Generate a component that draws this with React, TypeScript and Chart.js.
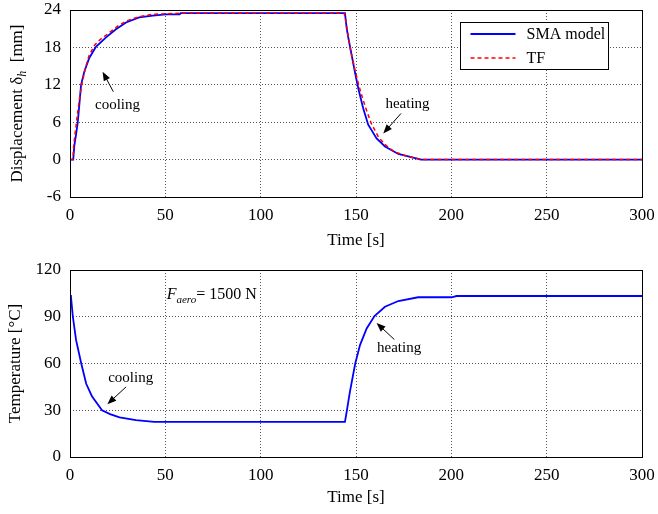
import React, { useEffect, useRef } from "react";
import { Chart, registerables } from "chart.js";
Chart.register(...registerables);

const FONT = "'Liberation Serif', 'Times New Roman', serif";

// ---- axes ----
const timeMin = 0;
const timeMax = 300;
const timeStep = 50;
const dispMin = -6;
const dispMax = 24;
const dispStep = 6;
const tempMin = 0;
const tempMax = 120;
const tempStep = 30;

// ---- top plot: displacement [mm] ----
const smaDispTime = [0, 1.7, 2.3, 3.1, 4.0, 4.9, 5.8, 7.5, 10.1, 13.6, 18.9, 24.1, 29.4, 36.3, 43.4, 50.3, 57.5, 58, 144.2, 145.1, 146.0, 147.7, 149.4, 151.2, 153.8, 156.4, 160.8, 165.2, 172.2, 177.4, 182.6, 184, 300];
const smaDisp = [0, 0, 2.3, 3.9, 5.8, 8.8, 12, 14.1, 16.3, 18.1, 19.6, 20.9, 22.0, 22.8, 23.1, 23.3, 23.3, 23.5, 23.5, 21.1, 19.5, 16.8, 14.1, 11.4, 8.2, 5.6, 3.4, 2.1, 0.9, 0.5, 0.1, 0, 0];

const tfDispTime = [0, 1.5, 2.0, 3.0, 4.0, 5.0, 6.0, 8.0, 10.0, 13.0, 16.0, 20.0, 25.0, 30.0, 36.0, 43.0, 50.0, 60.0, 143.8, 144.8, 145.8, 147.3, 149.3, 151.3, 153.3, 155.3, 158.0, 162.0, 166.0, 170.0, 175.0, 180.0, 185.0, 300];
const tfDisp = [0, 0, 2.5, 5.0, 7.5, 9.8, 11.8, 14.6, 16.7, 18.4, 19.3, 20.2, 21.4, 22.3, 22.9, 23.3, 23.4, 23.5, 23.5, 22.0, 20.0, 17.3, 14.6, 12.1, 10.0, 8.1, 5.8, 3.5, 2.2, 1.3, 0.7, 0.3, 0, 0];

// ---- bottom plot: temperature [°C] ----
const smaTempTime = [0, 0.5, 1.5, 3.2, 5.9, 8.5, 11.5, 16.8, 21.0, 26.0, 34.6, 44.2, 144.2, 145.1, 146.8, 149.6, 152.1, 155.6, 159.7, 165.2, 172.2, 182.6, 200.1, 202.8, 300];
const smaTemp = [103.9, 103, 90, 75, 60, 47, 39, 30, 27.5, 25.5, 23.6, 22.5, 22.5, 28.9, 41.8, 60, 71.8, 82.5, 90.5, 96.4, 100.1, 102.5, 102.5, 103.3, 103.3];

// ---- labels ----
const legendLabels = ["SMA model", "TF"];
const xTitle = "Time [s]";
const tempTitle = "Temperature [°C]";

// annotations (data space): [labelT, labelV, tailT, tailV, headT, headV]
const topCooling = [24.9, 8.75, 22.7, 10.9, 17.1, 14.1];
const topHeating = [177, 8.9, 173.6, 7.4, 164.3, 4.2];
const botCooling = [31.8, 50.8, 29.4, 45, 19.6, 33.9];
const botHeating = [172.6, 69.6, 170.1, 75.4, 160.8, 86];
const forceLabelPos = [50.7, 105];

const zip = (xs: number[], ys: number[]) => xs.map((x, i) => ({ x, y: ys[i] }));

type Seg = { text: string; font: string; dy?: number };
function drawSegs(ctx: CanvasRenderingContext2D, segs: Seg[], x: number, y: number, align: "left" | "center") {
  let w = 0;
  segs.forEach((s) => {
    ctx.font = s.font;
    w += ctx.measureText(s.text).width;
  });
  let cx = align === "center" ? x - w / 2 : x;
  ctx.textAlign = "left";
  ctx.textBaseline = "alphabetic";
  for (const s of segs) {
    ctx.font = s.font;
    ctx.fillText(s.text, cx, y + (s.dy || 0));
    cx += ctx.measureText(s.text).width;
  }
}

function drawArrow(ctx: CanvasRenderingContext2D, x1: number, y1: number, x2: number, y2: number) {
  const ang = Math.atan2(y2 - y1, x2 - x1);
  const len = 9;
  const half = 3.5;
  ctx.save();
  ctx.strokeStyle = "#000";
  ctx.fillStyle = "#000";
  ctx.lineWidth = 1;
  ctx.beginPath();
  ctx.moveTo(x1, y1);
  ctx.lineTo(x2 - Math.cos(ang) * len * 0.8, y2 - Math.sin(ang) * len * 0.8);
  ctx.stroke();
  const bx = x2 - Math.cos(ang) * len;
  const by = y2 - Math.sin(ang) * len;
  ctx.beginPath();
  ctx.moveTo(x2, y2);
  ctx.lineTo(bx + Math.sin(ang) * half, by - Math.cos(ang) * half);
  ctx.lineTo(bx - Math.sin(ang) * half, by + Math.cos(ang) * half);
  ctx.closePath();
  ctx.fill();
  ctx.restore();
}

function note(chart: any, a: number[], text: string) {
  const ctx = chart.ctx as CanvasRenderingContext2D;
  const xs = chart.scales.x;
  const ys = chart.scales.y;
  ctx.save();
  ctx.fillStyle = "#000";
  ctx.font = `15px ${FONT}`;
  ctx.textAlign = "center";
  ctx.textBaseline = "middle";
  ctx.fillText(text, xs.getPixelForValue(a[0]), ys.getPixelForValue(a[1]));
  ctx.restore();
  drawArrow(ctx, xs.getPixelForValue(a[2]), ys.getPixelForValue(a[3]), xs.getPixelForValue(a[4]), ys.getPixelForValue(a[5]));
}

const framePlugin = {
  id: "frame",
  afterDraw(chart: any) {
    const { ctx, chartArea: ca } = chart;
    ctx.save();
    ctx.strokeStyle = "#000";
    ctx.lineWidth = 1;
    ctx.strokeRect(Math.round(ca.left) + 0.5, Math.round(ca.top) + 0.5, Math.round(ca.right - ca.left), Math.round(ca.bottom - ca.top));
    ctx.restore();
  },
};

const topPlugin = {
  id: "topNotes",
  afterDraw(chart: any) {
    const ctx = chart.ctx as CanvasRenderingContext2D;
    const ca = chart.chartArea;
    note(chart, topCooling, "cooling");
    note(chart, topHeating, "heating");
    // legend
    const bx = Math.round(ca.right - 182) + 0.5;
    const by = Math.round(ca.top + 12) + 0.5;
    const bw = 148;
    const bh = 47;
    ctx.save();
    ctx.fillStyle = "#fff";
    ctx.fillRect(bx, by, bw, bh);
    ctx.strokeStyle = "#000";
    ctx.lineWidth = 1;
    ctx.strokeRect(bx, by, bw, bh);
    const rows = [
      { color: "#0000ff", dash: [] as number[], width: 1.8 },
      { color: "#ff0000", dash: [4, 3], width: 1.5 },
    ];
    rows.forEach((r, i) => {
      const y = by + 11.5 + i * 24;
      ctx.beginPath();
      ctx.strokeStyle = r.color;
      ctx.lineWidth = r.width;
      ctx.setLineDash(r.dash);
      ctx.moveTo(bx + 10, y);
      ctx.lineTo(bx + 55, y);
      ctx.stroke();
      ctx.setLineDash([]);
      ctx.fillStyle = "#000";
      ctx.font = `16px ${FONT}`;
      ctx.textAlign = "left";
      ctx.textBaseline = "middle";
      ctx.fillText(legendLabels[i], bx + 66, y + 1);
    });
    // y title with subscript
    const cy = (ca.top + ca.bottom) / 2;
    ctx.translate(16, cy);
    ctx.rotate(-Math.PI / 2);
    ctx.fillStyle = "#000";
    drawSegs(
      ctx,
      [
        { text: "Displacement δ", font: `17px ${FONT}` },
        { text: "h", font: `italic 12px ${FONT}`, dy: 4 },
        { text: "  [mm]", font: `17px ${FONT}` },
      ],
      0,
      6,
      "center"
    );
    ctx.restore();
  },
};

const bottomPlugin = {
  id: "botNotes",
  afterDraw(chart: any) {
    const ctx = chart.ctx as CanvasRenderingContext2D;
    note(chart, botCooling, "cooling");
    note(chart, botHeating, "heating");
    const xs = chart.scales.x;
    const ys = chart.scales.y;
    ctx.save();
    ctx.fillStyle = "#000";
    drawSegs(
      ctx,
      [
        { text: "F", font: `italic 16px ${FONT}` },
        { text: "aero", font: `italic 11px ${FONT}`, dy: 4 },
        { text: "= 1500 N", font: `16px ${FONT}` },
      ],
      xs.getPixelForValue(forceLabelPos[0]),
      ys.getPixelForValue(forceLabelPos[1]) + 6,
      "left"
    );
    ctx.restore();
  },
};

function xScale(axisHeight: number) {
  return {
    type: "linear",
    min: timeMin,
    max: timeMax,
    ticks: { stepSize: timeStep, color: "#000", font: { family: FONT, size: 17 }, padding: 8, maxRotation: 0, autoSkip: false },
    grid: { color: "#555", lineWidth: 1, drawTicks: false },
    border: { display: false, dash: [1, 2] },
    title: { display: true, text: xTitle, color: "#000", font: { family: FONT, size: 17 }, padding: { top: 0, bottom: 6 } },
    afterFit: (s: any) => {
      s.height = axisHeight;
      s.paddingLeft = 0;
      s.paddingRight = 0;
    },
  };
}

function yScale(min: number, max: number, step: number, title?: string) {
  return {
    type: "linear",
    min,
    max,
    ticks: { stepSize: step, color: "#000", font: { family: FONT, size: 17 }, padding: 9 },
    grid: { color: "#555", lineWidth: 1, drawTicks: false },
    border: { display: false, dash: [1, 2] },
    title: title
      ? { display: true, text: title, color: "#000", font: { family: FONT, size: 17 }, padding: { top: 5, bottom: 0 } }
      : { display: false },
    afterFit: (s: any) => {
      s.width = 70;
      s.paddingTop = 0;
      s.paddingBottom = 0;
    },
  };
}

function topConfig(): any {
  return {
    type: "line",
    data: {
      datasets: [
        { label: legendLabels[1], data: zip(tfDispTime, tfDisp), borderColor: "#ff0000", borderWidth: 1.5, borderDash: [4, 3], pointRadius: 0, tension: 0, fill: false },
        { label: legendLabels[0], data: zip(smaDispTime, smaDisp), borderColor: "#0000ff", borderWidth: 1.8, pointRadius: 0, tension: 0, fill: false },
      ],
    },
    options: {
      responsive: false,
      animation: false,
      devicePixelRatio: 1,
      layout: { padding: { top: 10, right: 16, left: 0, bottom: 0 } },
      plugins: { legend: { display: false }, tooltip: { enabled: false } },
      scales: { x: xScale(60), y: yScale(dispMin, dispMax, dispStep) },
    },
    plugins: [framePlugin, topPlugin],
  };
}

function bottomConfig(): any {
  return {
    type: "line",
    data: {
      datasets: [
        { label: legendLabels[0], data: zip(smaTempTime, smaTemp), borderColor: "#0000ff", borderWidth: 1.8, pointRadius: 0, tension: 0, fill: false },
      ],
    },
    options: {
      responsive: false,
      animation: false,
      devicePixelRatio: 1,
      layout: { padding: { top: 13, right: 16, left: 0, bottom: 0 } },
      plugins: { legend: { display: false }, tooltip: { enabled: false } },
      scales: { x: xScale(57), y: yScale(tempMin, tempMax, tempStep, tempTitle) },
    },
    plugins: [framePlugin, bottomPlugin],
  };
}

function Plot({ make, top, height }: { make: () => any; top: number; height: number }) {
  const ref = useRef<HTMLCanvasElement>(null);
  useEffect(() => {
    const chart = new Chart(ref.current as HTMLCanvasElement, make());
    return () => chart.destroy();
  }, []);
  return <canvas ref={ref} width={658} height={height} style={{ position: "absolute", left: 0, top, width: 658, height }} />;
}

export default function App() {
  return (
    <div style={{ position: "fixed", left: 0, top: 0, width: 658, height: 514, background: "#fff" }}>
      <Plot make={topConfig} top={0} height={257} />
      <Plot make={bottomConfig} top={257} height={257} />
    </div>
  );
}
